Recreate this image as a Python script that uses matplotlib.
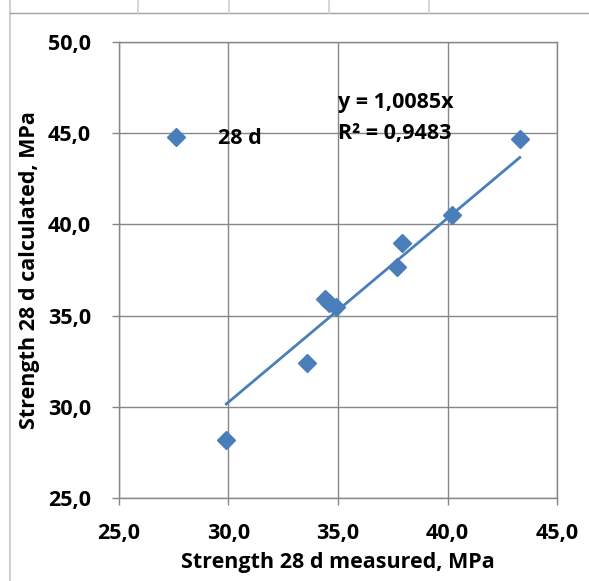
import matplotlib.pyplot as plt
from matplotlib.ticker import FuncFormatter
from matplotlib.lines import Line2D

# data
measured = [29.9, 33.6, 34.4, 34.6, 34.9, 37.7, 37.9, 40.2, 43.3]
calculated = [28.2, 32.4, 35.9, 35.7, 35.45, 37.65, 39.0, 40.5, 44.7]
slope = 1.0085
r2 = 0.9483
series_name = "28 d"

blue = "#4a7ebb"
grid = "#868686"
fs = 15.5

plt.rcParams['font.family'] = ['Open Sans', 'DejaVu Sans']
plt.rcParams['font.weight'] = 'bold'

fig = plt.figure(figsize=(5.89, 5.81), dpi=100)
ax = fig.add_axes([0.2020, 0.1429, 0.7437, 0.7848])

ax.plot(measured, calculated, linestyle="none", marker="D", markersize=9,
        color=blue, label=series_name, zorder=3)

x0, x1 = min(measured), max(measured)
ax.plot([x0, x1], [slope * x0, slope * x1], color=blue, lw=2, zorder=2)

ax.set_xlim(25, 45)
ax.set_ylim(25, 50)
ax.set_xticks([25, 30, 35, 40, 45])
ax.set_yticks([25, 30, 35, 40, 45, 50])
fmt = FuncFormatter(lambda v, p: f"{v:.1f}".replace(".", ","))
ax.xaxis.set_major_formatter(fmt)
ax.yaxis.set_major_formatter(fmt)
ax.tick_params(labelsize=fs, length=5, color=grid, width=1)
ax.tick_params(axis="x", pad=13)
ax.tick_params(axis="y", pad=15)
for lab in ax.get_xticklabels() + ax.get_yticklabels():
    lab.set_fontweight("bold")
ax.grid(True, color=grid, lw=1)
for s in ax.spines.values():
    s.set_color(grid)
    s.set_linewidth(1)

ax.set_xlabel("Strength 28 d measured, MPa", fontsize=fs, fontweight="bold", labelpad=6)
ax.set_ylabel("Strength 28 d calculated, MPa", fontsize=fs, fontweight="bold", labelpad=6)

eq = f"y = {slope:.4f}x".replace(".", ",")
rr = f"R² = {r2:.4f}".replace(".", ",")
ax.text(35.0, 46.66, eq, fontsize=fs, fontweight="bold", va="center", ha="left")
ax.text(35.0, 44.98, rr, fontsize=fs, fontweight="bold", va="center", ha="left")

ax.legend(loc="center left", bbox_to_anchor=(0.10, 0.788), frameon=False,
          prop={"size": fs, "weight": "bold"}, handlelength=1.2,
          handletextpad=1.35, borderpad=0, borderaxespad=0)

# spreadsheet cell borders around the chart
lc = "#d0d0d0"
fig.add_artist(Line2D([10/589, 10/589], [0, 1], color=lc, lw=1.5))
fig.add_artist(Line2D([10/589, 1], [1 - 13/581, 1 - 13/581], color="#a0a0a0", lw=1))
for px in [138, 229, 329, 429]:
    fig.add_artist(Line2D([px/589, px/589], [1 - 13/581, 1], color=lc, lw=1.2))

fig.savefig("out.png", dpi=100)
